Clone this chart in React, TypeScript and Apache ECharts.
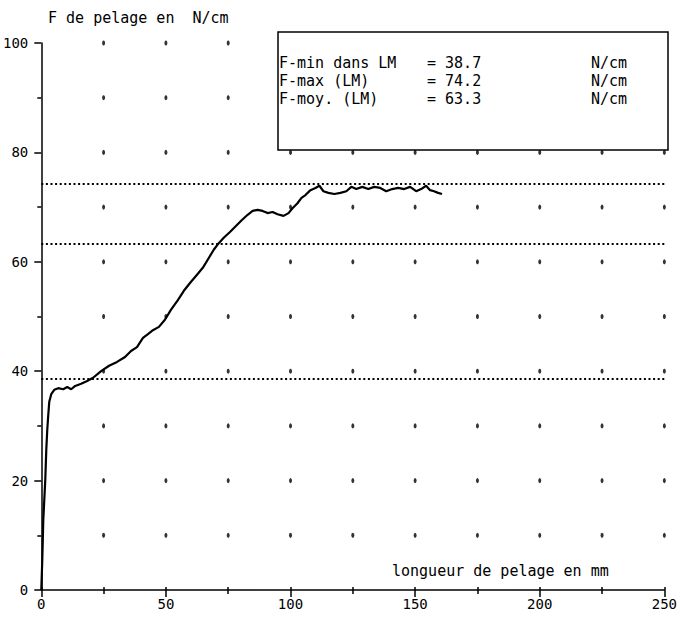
import React, { useEffect, useRef } from "react";
import * as echarts from "echarts";

// Peel force curve: [length in mm, force in N/cm]
const curveX = [0, 0.4, 0.8, 1.6, 2, 2.4, 2.8, 3.2, 4, 5.2, 6.8, 8.8, 10.4, 12, 13.6, 16, 18.4, 20.8, 24, 27.2, 30.4, 33.6, 36, 38.4, 40.8, 42.8, 44.8, 47.2, 49.6, 52, 54.8, 57.2, 60, 62.4, 64.8, 67.2, 69.2, 71.2, 73.2, 75.6, 78, 80.4, 82.8, 84.8, 86.8, 88.8, 90.8, 92.8, 94.8, 97.2, 99.2, 100.8, 102.8, 104.4, 106, 108, 110, 111.6, 113.2, 115.2, 117.6, 120, 122.4, 124.4, 126.4, 128.8, 131.2, 133.6, 136, 138.4, 140.8, 143.2, 145.6, 148, 150.4, 152.4, 154.4, 156, 157.6, 159.2, 160.8];
const curveY = [0, 5.5, 12.8, 20.1, 25.6, 29.3, 32, 34.4, 35.8, 36.6, 36.9, 36.7, 37.1, 36.7, 37.3, 37.7, 38.2, 38.8, 40, 41, 41.7, 42.6, 43.7, 44.4, 46.1, 46.8, 47.5, 48.1, 49.4, 51.2, 53, 54.7, 56.3, 57.6, 58.9, 60.7, 62.2, 63.4, 64.4, 65.4, 66.5, 67.6, 68.6, 69.3, 69.5, 69.3, 68.9, 69.1, 68.7, 68.4, 68.9, 69.8, 70.7, 71.7, 72.2, 73.1, 73.5, 73.9, 72.9, 72.6, 72.4, 72.6, 72.9, 73.7, 73.3, 73.7, 73.3, 73.7, 73.5, 72.9, 73.3, 73.5, 73.3, 73.7, 72.9, 73.3, 73.9, 73.1, 72.9, 72.6, 72.4];

// Reference values (N/cm)
const statLabels = ["F-min dans LM", "F-max (LM)", "F-moy. (LM)"];
const statValues = [38.7, 74.2, 63.3];
const statUnit = "N/cm";

// Dot grid positions
const dotX = [25, 50, 75, 100, 125, 150, 175, 200, 225, 250];
const dotY = [10, 20, 30, 40, 50, 60, 70, 80, 90, 100];

const FONT = "DejaVu Sans Mono";

export default function App() {
  const ref = useRef<HTMLDivElement>(null);
  useEffect(() => {
    if (!ref.current) return;
    const chart = echarts.init(ref.current, undefined, { renderer: "svg" });
    const dots: number[][] = [];
    dotX.forEach((x) => dotY.forEach((y) => dots.push([x, y])));
    const curve = curveX.map((x, i) => [x, curveY[i]]);

    const rowsY = [63, 81, 99];
    const boxTexts: any[] = [];
    statLabels.forEach((lab, i) => {
      boxTexts.push({ type: "text", z: 11, x: 279, y: rowsY[i], style: { text: lab, font: `15px '${FONT}'`, fill: "#000", verticalAlign: "middle" } });
      boxTexts.push({ type: "text", z: 11, x: 427, y: rowsY[i], style: { text: "= " + statValues[i].toFixed(1), font: `15px '${FONT}'`, fill: "#000", verticalAlign: "middle" } });
      boxTexts.push({ type: "text", z: 11, x: 591, y: rowsY[i], style: { text: statUnit, font: `15px '${FONT}'`, fill: "#000", verticalAlign: "middle" } });
    });

    const axisCommon = {
      type: "value",
      axisLine: { show: true, lineStyle: { color: "#000", width: 1.5 } },
      splitLine: { show: false },
      axisLabel: { color: "#000", fontSize: 14, fontFamily: FONT },
    };

    chart.setOption({
      animation: false,
      backgroundColor: "#fff",
      textStyle: { fontFamily: FONT },
      grid: { left: 40, right: 15, top: 43, bottom: 27 },
      xAxis: [
        {
          ...axisCommon,
          min: 0,
          max: 250,
          interval: 50,
          axisTick: { show: true, length: 7, lineStyle: { color: "#000", width: 1.5 } },
          minorTick: { show: true, splitNumber: 2, length: 4, lineStyle: { color: "#000", width: 1.5 } },
          axisLabel: { ...axisCommon.axisLabel, margin: 7 },
        },
        {
          type: "value",
          position: "bottom",
          min: 0,
          max: 250,
          interval: 25,
          axisLine: { show: false },
          axisLabel: { show: false },
          splitLine: { show: false },
          axisTick: { show: true, inside: true, length: 3, lineStyle: { color: "#000", width: 1.5 } },
        },
      ],
      yAxis: {
        ...axisCommon,
        min: 0,
        max: 100,
        interval: 20,
        axisTick: { show: true, length: 7, lineStyle: { color: "#000", width: 1.5 } },
        minorTick: { show: true, splitNumber: 2, length: 4, lineStyle: { color: "#000", width: 1.5 } },
        axisLabel: { ...axisCommon.axisLabel, margin: 13 },
      },
      series: [
        {
          type: "scatter",
          data: dots,
          symbol: "circle",
          symbolSize: [3, 5],
          itemStyle: { color: "#000" },
          silent: true,
          z: 1,
        },
        {
          type: "line",
          data: curve,
          showSymbol: false,
          lineStyle: { color: "#000", width: 2.2 },
          z: 3,
          markLine: {
            silent: true,
            symbol: "none",
            label: { show: false },
            lineStyle: { color: "#000", width: 2.2, type: [2, 2.6] },
            data: statValues.map((v) => ({ yAxis: v })),
          },
        },
      ],
      graphic: [
        { type: "text", z: 11, x: 48, y: 18, style: { text: "F de pelage en  N/cm", font: `15px '${FONT}'`, fill: "#000", verticalAlign: "middle" } },
        { type: "text", z: 11, x: 392, y: 571, style: { text: "longueur de pelage en mm", font: `15px '${FONT}'`, fill: "#000", verticalAlign: "middle" } },
        { type: "rect", z: 10, shape: { x: 278, y: 32, width: 390, height: 118 }, style: { fill: "#fff", stroke: "#000", lineWidth: 1.5 } },
        ...boxTexts,
      ],
    });
    return () => chart.dispose();
  }, []);
  return <div ref={ref} style={{ position: "absolute", left: 0, top: 0, width: 680, height: 617 }} />;
}
